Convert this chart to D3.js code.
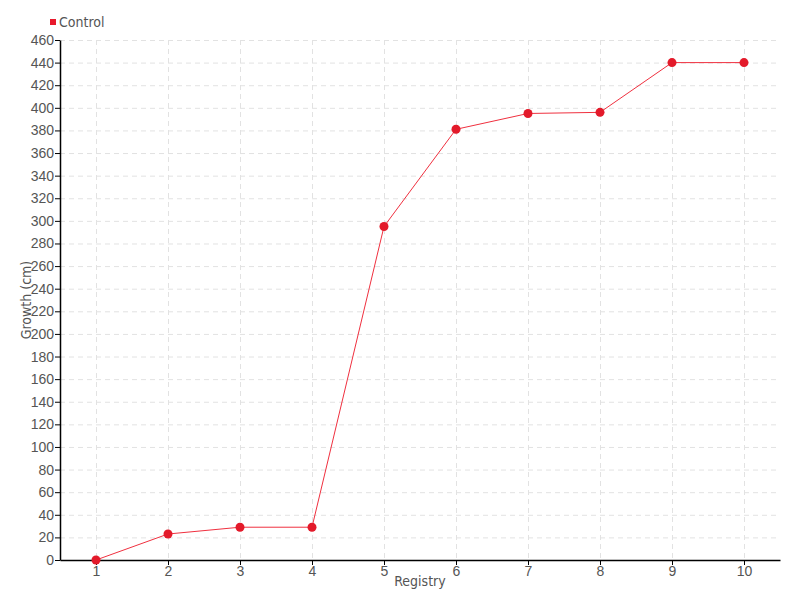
<!DOCTYPE html>
<html><head><meta charset="utf-8">
<script src="https://cdn.jsdelivr.net/npm/d3@7"></script>
<style>body{margin:0;background:#fff;}svg{display:block;font-family:"DejaVu Sans Condensed","Liberation Sans Narrow","Roboto Condensed",sans-serif;}</style>
</head><body><div id="chart"></div>
<script>
const categories = [1,2,3,4,5,6,7,8,9,10];
const controlValues = [0,23,29,29,295,381,395,396,440,440];
const yTicks = d3.range(0,461,20);
const seriesName = "Control";

const W=800,H=600, m={l:60,r:20,t:40,b:40};
const svg=d3.select("#chart").append("svg").attr("width",W).attr("height",H);
const x=d3.scaleLinear().domain([0.5,10.5]).range([m.l,W-m.r]);
const y=d3.scaleLinear().domain([0,460]).range([H-m.b,m.t]);
const grid=svg.append("g").attr("stroke","#e2e2e2").attr("stroke-dasharray","5,4");
grid.selectAll("line.h").data(yTicks.filter(d=>d>0)).join("line").attr("x1",m.l).attr("x2",W-m.r).attr("y1",d=>y(d)+0.5).attr("y2",d=>y(d)+0.5);
grid.selectAll("line.v").data(categories).join("line").attr("y1",m.t).attr("y2",H-m.b).attr("x1",d=>Math.round(x(d))+0.5).attr("x2",d=>Math.round(x(d))+0.5);

const xa=svg.append("g").attr("transform",`translate(0,${H-m.b})`).call(d3.axisBottom(x).tickValues(categories).tickSize(5).tickPadding(1).tickSizeOuter(0));
const ya=svg.append("g").attr("transform",`translate(${m.l},0)`).call(d3.axisLeft(y).tickValues(yTicks).tickSize(5).tickPadding(1).tickSizeOuter(0));
[xa,ya].forEach(a=>{a.select(".domain").attr("stroke","#000").attr("stroke-width",1.5);a.selectAll(".tick line").attr("stroke","#000");a.selectAll("text").attr("fill","#555").attr("font-size",14).attr("font-family","inherit");});

svg.append("text").attr("x",(m.l+W-m.r)/2).attr("y",586).attr("text-anchor","middle").attr("fill","#555").attr("font-size",14).text("Registry");
svg.append("text").attr("transform",`translate(31,${(m.t+H-m.b)/2}) rotate(-90)`).attr("text-anchor","middle").attr("fill","#555").attr("font-size",14).text("Growth (cm)");

const line=d3.line().x((d,i)=>x(categories[i])).y(d=>y(d));
svg.append("path").datum(controlValues).attr("d",line).attr("fill","none").attr("stroke","#f0303f").attr("stroke-width",1);
svg.selectAll("circle.pt").data(controlValues).join("circle").attr("cx",(d,i)=>x(categories[i])).attr("cy",d=>y(d)).attr("r",4.5).attr("fill","#e31a2a");

svg.append("rect").attr("x",50).attr("y",19).attr("width",6).attr("height",6).attr("fill","#e8192c");
svg.append("text").attr("x",59).attr("y",27).attr("fill","#555").attr("font-size",14).text(seriesName);
</script></body></html>
